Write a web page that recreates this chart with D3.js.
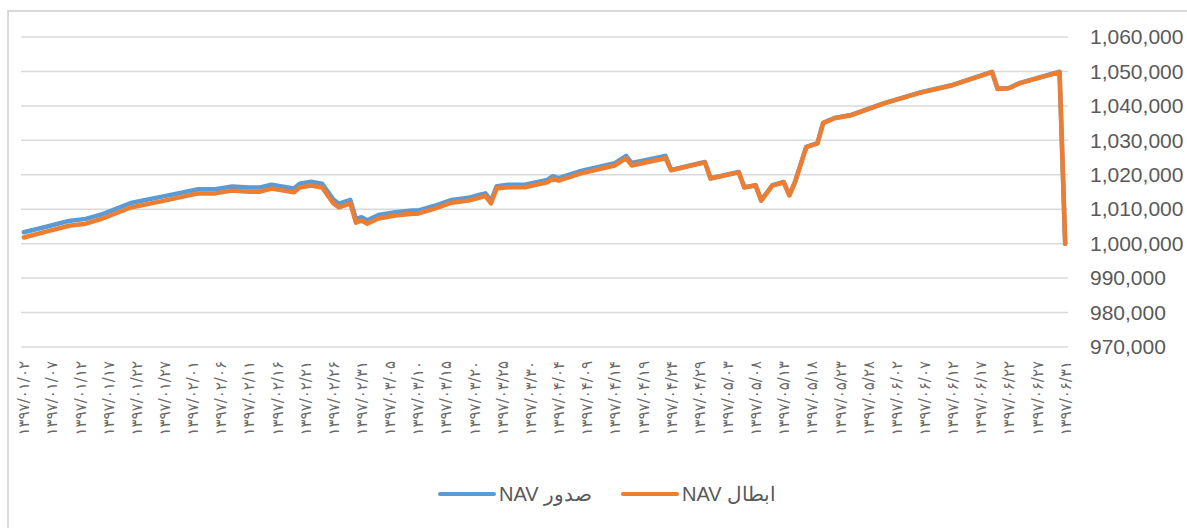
<!DOCTYPE html>
<html>
<head>
<meta charset="utf-8">
<script src="https://cdn.jsdelivr.net/npm/d3@7"></script>
<style>
  body { margin: 0; background: #ffffff; }
  svg { display: block; font-family: "Liberation Sans", Arial, sans-serif; }
</style>
</head>
<body>
<div id="chart"></div>
<script>
// tick labels on the date axis (one every 5 rows)
const tickLabels = [
  '۱۳۹۷/۰۱/۰۲','۱۳۹۷/۰۱/۰۷','۱۳۹۷/۰۱/۱۲','۱۳۹۷/۰۱/۱۷','۱۳۹۷/۰۱/۲۲','۱۳۹۷/۰۱/۲۷',
  '۱۳۹۷/۰۲/۰۱','۱۳۹۷/۰۲/۰۶','۱۳۹۷/۰۲/۱۱','۱۳۹۷/۰۲/۱۶','۱۳۹۷/۰۲/۲۱','۱۳۹۷/۰۲/۲۶','۱۳۹۷/۰۲/۳۱',
  '۱۳۹۷/۰۳/۰۵','۱۳۹۷/۰۳/۱۰','۱۳۹۷/۰۳/۱۵','۱۳۹۷/۰۳/۲۰','۱۳۹۷/۰۳/۲۵','۱۳۹۷/۰۳/۳۰',
  '۱۳۹۷/۰۴/۰۴','۱۳۹۷/۰۴/۰۹','۱۳۹۷/۰۴/۱۴','۱۳۹۷/۰۴/۱۹','۱۳۹۷/۰۴/۲۴','۱۳۹۷/۰۴/۲۹',
  '۱۳۹۷/۰۵/۰۳','۱۳۹۷/۰۵/۰۸','۱۳۹۷/۰۵/۱۳','۱۳۹۷/۰۵/۱۸','۱۳۹۷/۰۵/۲۳','۱۳۹۷/۰۵/۲۸',
  '۱۳۹۷/۰۶/۰۲','۱۳۹۷/۰۶/۰۷','۱۳۹۷/۰۶/۱۲','۱۳۹۷/۰۶/۱۷','۱۳۹۷/۰۶/۲۲','۱۳۹۷/۰۶/۲۷','۱۳۹۷/۰۶/۳۱'
];
const labelStep = 5;
const rowCount = 186;

// row index of each vertex of the lines
const rows = [0,4,8,11,14,19,25,31,34,37,40,42,44,48,49,51,53,55,56,58,59,60,61,63,66,69,70,73,76,79,
  81,82,83,84,86,89,93,94,95,99,105,107,108,114,115,121,122,127,128,130,131,133,135,136,137,
  139,141,142,144,147,153,159,165,172,173,175,177,184,185];

// NAV صدور
const navSodur = [1003300,1004900,1006600,1007200,1008600,1011800,1013800,1015800,1015800,1016600,
  1016300,1016300,1017100,1016000,1017400,1018000,1017400,1012800,1011600,1012700,1007100,1007700,
  1006800,1008300,1009100,1009600,1009600,1011000,1012700,1013300,1014200,1014600,1012400,1016700,
  1017100,1017100,1018500,1019600,1019000,1021100,1023400,1025500,1023400,1025500,1021400,1023700,
  1019000,1020800,1016400,1017000,1012600,1017000,1017900,1014100,1017900,1028100,1029200,1035100,
  1036500,1037400,1040900,1043800,1046100,1049900,1045000,1045200,1046700,1049900,1000000];

// NAV ابطال
const navEbtal = [1001800,1003500,1005200,1005800,1007300,1010500,1012500,1014600,1014600,1015400,
  1015100,1015100,1016000,1014900,1016300,1016900,1016300,1011700,1010500,1011700,1006100,1006700,
  1005800,1007300,1008200,1008700,1008700,1010200,1011900,1012500,1013400,1013900,1011700,1016000,
  1016400,1016400,1017800,1018900,1018300,1020400,1022700,1024800,1022700,1024800,1021300,1023600,
  1018900,1020700,1016300,1016900,1012500,1016900,1017800,1014000,1017800,1028000,1029100,1035000,
  1036400,1037300,1040800,1043700,1046000,1049800,1044900,1045100,1046600,1049800,1000000];

const yTicks = [970000,980000,990000,1000000,1010000,1020000,1030000,1040000,1050000,1060000];

const series = [
  { name: 'صدور NAV', values: navSodur, color: '#5B9BD5' },
  { name: 'ابطال NAV', values: navEbtal, color: '#ED7D31' }
];

const width = 1187, height = 528;
const svg = d3.select('#chart').append('svg')
  .attr('width', width)
  .attr('height', height);

// chart frame
svg.append('rect')
  .attr('x', 8).attr('y', 11)
  .attr('width', 1200).attr('height', 540)
  .attr('fill', 'none')
  .attr('stroke', '#d9d9d9')
  .attr('stroke-width', 2);

const xScale = d3.scaleLinear()
  .domain([-0.5, rowCount - 0.5])
  .range([21, 1068]);
const yScale = d3.scaleLinear()
  .domain([970000, 1060000])
  .range([347, 37]);

// grid
svg.append('g')
  .selectAll('line')
  .data(yTicks)
  .enter()
  .append('line')
  .attr('x1', 21).attr('x2', 1068)
  .attr('y1', d => yScale(d)).attr('y2', d => yScale(d))
  .attr('stroke', '#d9d9d9')
  .attr('stroke-width', 1.5);

// y axis on the right
const yAxis = svg.append('g')
  .attr('transform', 'translate(1090,0)')
  .call(d3.axisRight(yScale).tickValues(yTicks).tickSize(0).tickPadding(0).tickFormat(d3.format(',')));
yAxis.select('.domain').remove();
yAxis.selectAll('text')
  .attr('font-family', '"Liberation Sans", Arial, sans-serif')
  .attr('font-size', 21)
  .attr('fill', '#595959');

// x axis with rotated labels
const xAxis = svg.append('g')
  .attr('transform', 'translate(0,347)')
  .call(d3.axisBottom(xScale)
    .tickValues(tickLabels.map((d, i) => i * labelStep))
    .tickSize(0)
    .tickFormat((d, i) => tickLabels[i]));
xAxis.select('.domain').remove();
xAxis.selectAll('text')
  .attr('font-family', '"DejaVu Sans", sans-serif')
  .attr('font-size', 15)
  .attr('letter-spacing', 2)
  .attr('fill', '#6a6a6a')
  .attr('text-anchor', 'end')
  .attr('dy', null)
  .attr('y', 0)
  .attr('transform', 'translate(0,14) rotate(-90) translate(0,5)');

// lines
const line = d3.line()
  .x((d, i) => xScale(rows[i]))
  .y(d => yScale(d));
svg.append('g')
  .selectAll('path')
  .data(series)
  .enter()
  .append('path')
  .attr('d', d => line(d.values))
  .attr('fill', 'none')
  .attr('stroke', d => d.color)
  .attr('stroke-width', 4.5)
  .attr('stroke-linejoin', 'round')
  .attr('stroke-linecap', 'round');

// legend
const legendX = [440, 623];
const legend = svg.append('g')
  .selectAll('g')
  .data(series)
  .enter()
  .append('g')
  .attr('transform', (d, i) => `translate(${legendX[i]},494)`);
legend.append('line')
  .attr('x1', 0).attr('x2', 54)
  .attr('stroke', d => d.color)
  .attr('stroke-width', 4)
  .attr('stroke-linecap', 'round');
legend.append('text')
  .attr('x', 59)
  .attr('dy', '0.35em')
  .attr('font-family', '"Liberation Sans", Arial, sans-serif')
  .attr('font-size', 20)
  .attr('fill', '#595959')
  .attr('direction', 'ltr')
  .text(d => d.name.split(' ').reverse().join(' '));
</script>
</body>
</html>
